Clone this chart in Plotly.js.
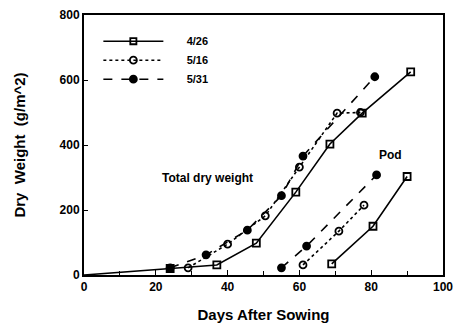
<!DOCTYPE html>
<html><head><meta charset="utf-8">
<script src="https://cdn.plot.ly/plotly-3.0.1.min.js"></script>
<style>html,body{margin:0;padding:0;background:#fff}</style>
</head><body><div id="chart" style="width:463px;height:334px"></div>
<script>
// Total dry weight
const total_426_x = [0, 24, 37, 48, 59, 68.5, 77.5, 91];
const total_426_y = [0, 20, 31, 98, 255, 403, 498, 625];
const total_516_x = [29, 40, 50.5, 60, 70.5, 77];
const total_516_y = [22, 95, 182, 332, 498, 500];
const total_531_x = [24, 34, 45.5, 55, 61, 81];
const total_531_y = [22, 62, 138, 244, 366, 610];
// Pod
const pod_426_x = [69, 80.5, 90];
const pod_426_y = [34, 150, 303];
const pod_516_x = [61, 71, 78];
const pod_516_y = [31, 135, 215];
const pod_531_x = [55, 62, 81.5];
const pod_531_y = [22, 89, 308];
const seriesNames = ['4/26', '5/16', '5/31'];
const yTicks = [0, 200, 400, 600, 800];
const xTicks = [0, 20, 40, 60, 80, 100];

const styles = [
  {dash: 'solid', symbol: 'square-open'},
  {dash: 'dot', symbol: 'circle-open'},
  {dash: 'dash', symbol: 'circle'}
];
const totals = [[total_426_x, total_426_y], [total_516_x, total_516_y], [total_531_x, total_531_y]];
const pods = [[pod_426_x, pod_426_y], [pod_516_x, pod_516_y], [pod_531_x, pod_531_y]];
const traces = [];
totals.forEach((d, i) => {
  // no marker drawn at the sowing origin (x = 0)
  const sizes = d[0].map(v => v === 0 ? 0 : 7);
  traces.push({x: d[0], y: d[1], name: '      ' + seriesNames[i], legendgroup: seriesNames[i],
    mode: 'lines+markers', line: {color: '#000', width: 1.6, dash: styles[i].dash},
    marker: {symbol: styles[i].symbol, size: sizes, opacity: 1, color: '#000', line: {color: '#000', width: 1.8}}});
});
pods.forEach((d, i) => {
  traces.push({x: d[0], y: d[1], name: seriesNames[i], legendgroup: seriesNames[i], showlegend: false,
    mode: 'lines+markers', line: {color: '#000', width: 1.6, dash: styles[i].dash},
    marker: {symbol: styles[i].symbol, size: 7, opacity: 1, color: '#000', line: {color: '#000', width: 1.8}}});
});
const font = {family: 'Liberation Sans, Arial, sans-serif', color: '#000', weight: 'bold'};
const layout = {
  width: 463, height: 334,
  margin: {l: 84, r: 20, t: 15, b: 59},
  paper_bgcolor: '#fff', plot_bgcolor: '#fff',
  font: Object.assign({size: 12}, font),
  showlegend: true,
  legend: {x: 0.04, y: 0.955, xanchor: 'left', yanchor: 'top', bgcolor: 'rgba(0,0,0,0)',
    itemwidth: 60, tracegroupgap: 0, font: Object.assign({size: 11}, font)},
  xaxis: {range: [0, 100], tickvals: xTicks, ticktext: xTicks.map(String),
    showline: true, linecolor: '#000', linewidth: 2, mirror: true,
    ticks: 'inside', ticklen: 5, tickcolor: '#000', showgrid: false, zeroline: false,
    minor: {dtick: 10, ticks: 'inside', ticklen: 4, tickcolor: '#000'},
    tickfont: Object.assign({size: 12}, font),
    title: {text: 'Days After Sowing', font: Object.assign({size: 15}, font), standoff: 16}},
  yaxis: {range: [0, 800], tickvals: yTicks, ticktext: yTicks.map(String),
    showline: true, linecolor: '#000', linewidth: 2, mirror: true,
    ticks: 'inside', ticklen: 4, tickcolor: '#000', showgrid: false, zeroline: false,
    tickfont: Object.assign({size: 12}, font),
    title: {text: 'Dry  Weight  (g/m^2)', font: Object.assign({size: 15}, font), standoff: 30}},
  annotations: [
    {x: 34.5, y: 300, xref: 'x', yref: 'y', text: 'Total dry weight', showarrow: false,
      font: Object.assign({size: 12}, font)},
    {x: 85.5, y: 370, xref: 'x', yref: 'y', text: 'Pod', showarrow: false,
      font: Object.assign({size: 12}, font)}
  ]
};
Plotly.newPlot('chart', traces, layout, {displayModeBar: false, staticPlot: true});
</script></body></html>
